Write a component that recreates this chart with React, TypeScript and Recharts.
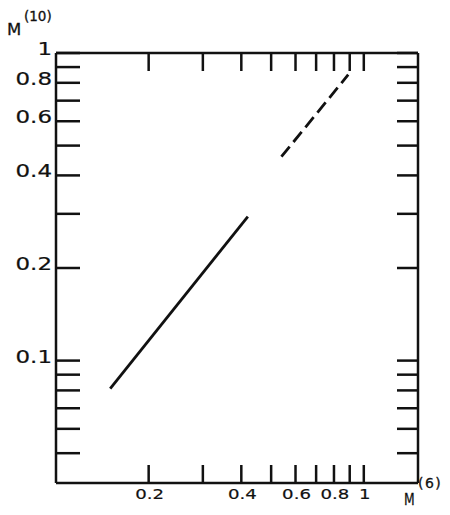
import { LineChart, Line, XAxis, YAxis } from 'recharts';

// M(6) on x, M(10) on y, both log scales
const solidM6 = [0.15, 0.42];
const solidM10 = [0.081, 0.294];
const dashedM6 = [0.54, 0.89];
const dashedM10 = [0.46, 0.85];

const xTicks = [0.2, 0.3, 0.4, 0.5, 0.6, 0.7, 0.8, 0.9, 1];
const xLabels = ['0.2', '', '0.4', '', '0.6', '', '0.8', '', '1'];
const yTicks = [0.05, 0.06, 0.07, 0.08, 0.09, 0.1, 0.2, 0.3, 0.4, 0.5, 0.6, 0.7, 0.8, 0.9, 1];
const yLabels = ['', '', '', '', '', '0.1', '0.2', '', '0.4', '', '0.6', '', '0.8', '', '1'];

const solid = solidM6.map((x, i) => ({ x, y: solidM10[i] }));
const dashed = dashedM6.map((x, i) => ({ x, y: dashedM10[i] }));

const ink = '#111';
const font = '"DejaVu Sans", sans-serif';

const BottomTick = ({ x, y, payload }: any) => {
  const label = xLabels[xTicks.indexOf(payload.value)];
  return (
    <g>
      <line x1={x} x2={x} y1={y} y2={y - 18} stroke={ink} strokeWidth={2.5} />
      {label && (
        <text
          transform={`translate(${x + 1},${y + 16}) scale(1.25,1)`}
          textAnchor="middle"
          fontSize={14.5}
          fontFamily={font}
          fill={ink}
          stroke={ink}
          strokeWidth={0.2}
        >
          {label}
        </text>
      )}
    </g>
  );
};

const TopTick = ({ x, y }: any) => (
  <line x1={x} x2={x} y1={y} y2={y + 18} stroke={ink} strokeWidth={2.5} />
);

const LeftTick = ({ x, y, payload }: any) => {
  const label = yLabels[yTicks.indexOf(payload.value)];
  return (
    <g>
      <line x1={x} x2={x + 24} y1={y} y2={y} stroke={ink} strokeWidth={2.5} />
      {label && (
        <text
          transform={`translate(${x - 4},${y + 2}) scale(1.35,1)`}
          textAnchor="end"
          fontSize={17}
          fontFamily={font}
          fill={ink}
          stroke={ink}
          strokeWidth={0.2}
        >
          {label}
        </text>
      )}
    </g>
  );
};

const RightTick = ({ x, y }: any) => (
  <line x1={x} x2={x - 21} y1={y} y2={y} stroke={ink} strokeWidth={2.5} />
);

export default function App() {
  return (
    <div style={{ position: 'relative', width: 450, height: 515, background: '#fff' }}>
      <style>{'body{margin:0}'}</style>
      <LineChart width={450} height={515} margin={{ top: 51, right: 30, bottom: 0, left: 0 }}>
        <XAxis
          xAxisId="bottom"
          type="number"
          dataKey="x"
          scale="log"
          domain={[0.1, 1.5]}
          allowDataOverflow
          ticks={xTicks}
          interval={0}
          tickSize={0}
          tickMargin={0}
          tick={<BottomTick />}
          height={32}
          axisLine={{ stroke: ink, strokeWidth: 2.5 }}
        />
        <XAxis
          xAxisId="top"
          orientation="top"
          type="number"
          dataKey="x"
          scale="log"
          domain={[0.1, 1.5]}
          allowDataOverflow
          ticks={xTicks}
          interval={0}
          tickSize={0}
          tickMargin={0}
          tick={<TopTick />}
          height={2}
          axisLine={{ stroke: ink, strokeWidth: 2.5 }}
        />
        <YAxis
          yAxisId="left"
          type="number"
          dataKey="y"
          scale="log"
          domain={[0.04, 1]}
          allowDataOverflow
          ticks={yTicks}
          interval={0}
          tickSize={0}
          tickMargin={0}
          tick={<LeftTick />}
          width={56}
          axisLine={{ stroke: ink, strokeWidth: 2.5 }}
        />
        <YAxis
          yAxisId="right"
          orientation="right"
          type="number"
          dataKey="y"
          scale="log"
          domain={[0.04, 1]}
          allowDataOverflow
          ticks={yTicks}
          interval={0}
          tickSize={0}
          tickMargin={0}
          tick={<RightTick />}
          width={2}
          axisLine={{ stroke: ink, strokeWidth: 2.5 }}
        />
        <Line
          xAxisId="top"
          yAxisId="right"
          data={solid}
          dataKey="y"
          stroke="none"
          dot={false}
          isAnimationActive={false}
        />
        <Line
          xAxisId="bottom"
          yAxisId="left"
          data={solid}
          dataKey="y"
          stroke={ink}
          strokeWidth={2.8}
          dot={false}
          isAnimationActive={false}
        />
        <Line
          xAxisId="bottom"
          yAxisId="left"
          data={dashed}
          dataKey="y"
          stroke={ink}
          strokeWidth={2.8}
          strokeDasharray="13 6"
          dot={false}
          isAnimationActive={false}
        />
      </LineChart>
      <svg
        width={450}
        height={515}
        style={{ position: 'absolute', left: 0, top: 0, pointerEvents: 'none' }}
      >
        <g fontFamily={font} fill={ink} stroke={ink} strokeWidth={0.3}>
          <text x={7} y={35} fontSize={16.5}>M</text>
          <text x={24} y={21} fontSize={13.5}>(10)</text>
          <text transform="translate(404,505) scale(0.75,1)" fontSize={16.5}>M</text>
          <text x={418} y={488} fontSize={14} letterSpacing={1.5}>(6)</text>
        </g>
      </svg>
    </div>
  );
}
